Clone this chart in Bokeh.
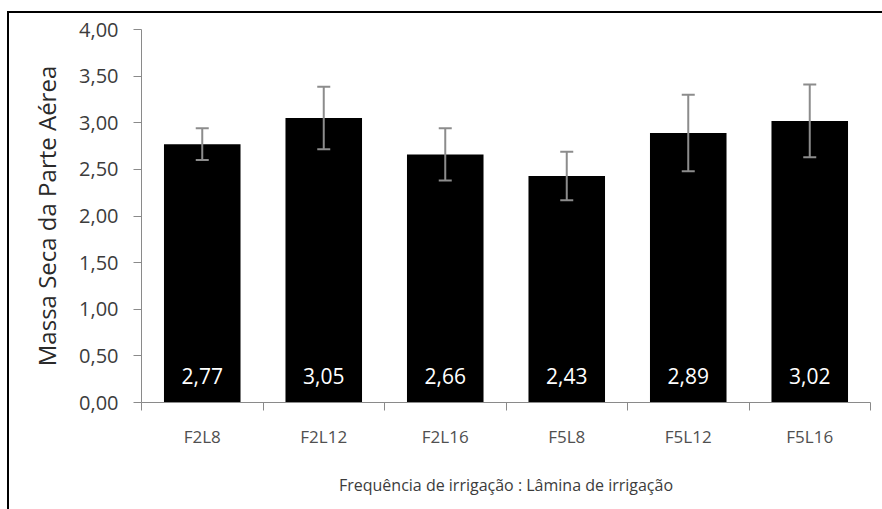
from bokeh.plotting import figure
from bokeh.models import (Range1d, LinearAxis, FixedTicker, CustomJSTickFormatter,
                          Whisker, TeeHead, ColumnDataSource, InlineStyleSheet)
from bokeh.core.properties import value
from bokeh.embed import file_html
from bokeh.resources import INLINE

# ---- data ----
categories = ["F2L8", "F2L12", "F2L16", "F5L8", "F5L12", "F5L16"]
means = [2.77, 3.05, 2.66, 2.43, 2.89, 3.02]
errors = [0.17, 0.335, 0.28, 0.26, 0.41, 0.39]
y_ticks = [0.0, 0.5, 1.0, 1.5, 2.0, 2.5, 3.0, 3.5, 4.0]
y_title = "Massa Seca da Parte Aérea"
x_title = "Frequência de irrigação : Lâmina de irrigação"

FONT = "Open Sans"
LABEL_Y = 0.28
n = len(categories)
xs = [i + 0.5 for i in range(n)]
src = ColumnDataSource(dict(
    x=xs,
    top=means,
    upper=[m + e for m, e in zip(means, errors)],
    lower=[m - e for m, e in zip(means, errors)],
    label=[f"{m:.2f}".replace(".", ",") for m in means],
    ly=[LABEL_Y] * n,
))

p = figure(width=880, height=505, x_range=Range1d(0, n), y_range=Range1d(0, 4),
           output_backend="svg", toolbar_location=None,
           x_axis_type=None, y_axis_type=None,
           min_border_left=141, min_border_right=10,
           min_border_top=29, min_border_bottom=103)
p.outline_line_color = None
p.background_fill_color = "white"
p.border_fill_color = "white"

AX_COL = "#8a8a8a"
TXT_COL = "#3c3c3c"

# y axis
yaxis = LinearAxis(ticker=FixedTicker(ticks=y_ticks),
                   formatter=CustomJSTickFormatter(code="return tick.toFixed(2).replace('.', ',')"))
yaxis.axis_label = y_title
yaxis.axis_line_color = AX_COL
yaxis.major_tick_line_color = AX_COL
yaxis.major_tick_out = 8
yaxis.major_tick_in = 0
yaxis.minor_tick_line_color = None
yaxis.major_label_standoff = 15
yaxis.major_label_text_font = FONT
yaxis.major_label_text_font_size = "20px"
yaxis.major_label_text_color = TXT_COL
yaxis.axis_label_text_font = FONT
yaxis.axis_label_text_font_size = "24px"
yaxis.axis_label_text_font_style = "normal"
yaxis.axis_label_text_color = "#2a2a2a"
yaxis.axis_label_standoff = 13
p.add_layout(yaxis, "left")

# x axis: boundary ticks
xaxis_b = LinearAxis(ticker=FixedTicker(ticks=list(range(n + 1))),
                     formatter=CustomJSTickFormatter(code="return ''"))
xaxis_b.axis_line_color = AX_COL
xaxis_b.major_tick_line_color = AX_COL
xaxis_b.major_tick_out = 8
xaxis_b.major_tick_in = 0
xaxis_b.minor_tick_line_color = None
xaxis_b.major_label_standoff = 0
xaxis_b.major_label_text_font_size = "1px"
p.add_layout(xaxis_b, "below")

# x axis: category labels
xaxis_c = LinearAxis(ticker=FixedTicker(ticks=xs),
                     formatter=CustomJSTickFormatter(args=dict(labels=categories),
                                                     code="return labels[Math.floor(tick)]"))
xaxis_c.axis_line_color = None
xaxis_c.major_tick_line_color = None
xaxis_c.minor_tick_line_color = None
xaxis_c.major_tick_out = 0
xaxis_c.major_tick_in = 0
xaxis_c.major_label_standoff = 14
xaxis_c.major_label_text_font = FONT
xaxis_c.major_label_text_font_size = "17px"
xaxis_c.major_label_text_color = "#505050"
xaxis_c.axis_label = x_title
xaxis_c.axis_label_text_font = FONT
xaxis_c.axis_label_text_font_size = "16px"
xaxis_c.axis_label_text_font_style = "normal"
xaxis_c.axis_label_text_color = TXT_COL
xaxis_c.axis_label_standoff = 23
p.add_layout(xaxis_c, "below")

# bars
p.vbar(x="x", top="top", width=0.63, bottom=0, source=src,
       fill_color="black", line_color=None)

# error bars
w = Whisker(base="x", upper="upper", lower="lower", source=src,
            line_color="#8c8c8c", line_width=2, level="annotation",
            upper_head=TeeHead(size=13, line_color="#8c8c8c", line_width=2),
            lower_head=TeeHead(size=13, line_color="#8c8c8c", line_width=2))
p.add_layout(w)

# value labels
p.text(x="x", y="ly", text="label", source=src, text_color="white",
       text_font=value(FONT), text_font_size="21px",
       text_align="center", text_baseline="middle")

# outer frame of the picture (decorative border)
p.stylesheets = [InlineStyleSheet(css="""
:host { position: relative; }
:host::after {
  content: ""; position: absolute; left: 7px; top: 11px;
  width: 900px; height: 600px; border: 2px solid black;
  pointer-events: none; box-sizing: border-box;
}
""")]

open("out.html", "w").write(file_html(p, INLINE))
